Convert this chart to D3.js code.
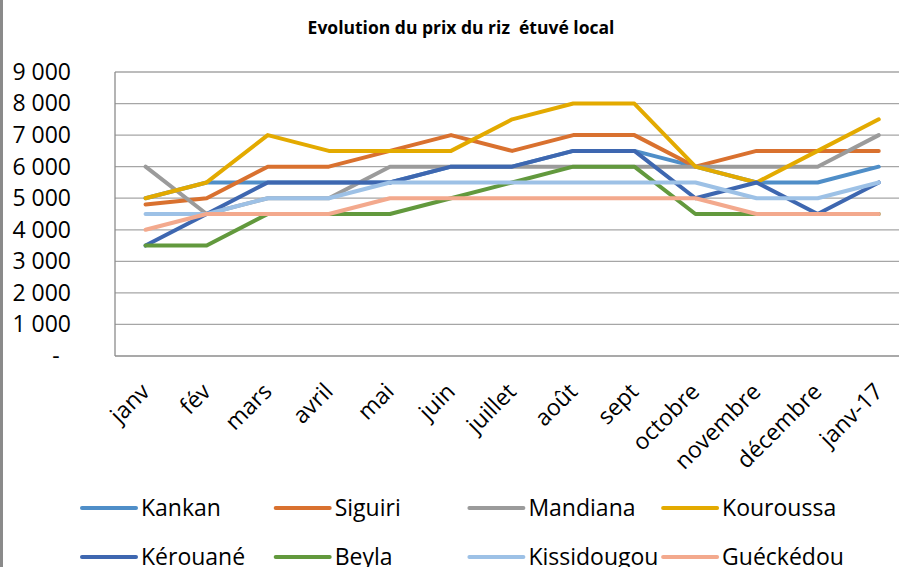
<!DOCTYPE html>
<html>
<head>
<meta charset="utf-8">
<script src="https://cdn.jsdelivr.net/npm/d3@7"></script>
<style>
  body { margin: 0; background: #fff; }
  svg { display: block; font-family: "Open Sans", "Noto Sans", sans-serif; }
</style>
</head>
<body>
<div id="chart"></div>
<script>
var months = ["janv", "fév", "mars", "avril", "mai", "juin", "juillet", "août",
  "sept", "octobre", "novembre", "décembre", "janv-17"];
var yTicks = [0, 1000, 2000, 3000, 4000, 5000, 6000, 7000, 8000, 9000];

var kankan      = [5000, 5500, 5500, 5500, 5500, 6000, 6000, 6500, 6500, 6000, 5500, 5500, 6000];
var siguiri     = [4800, 5000, 6000, 6000, 6500, 7000, 6500, 7000, 7000, 6000, 6500, 6500, 6500];
var mandiana    = [6000, 4500, 5000, 5000, 6000, 6000, 6000, 6000, 6000, 6000, 6000, 6000, 7000];
var kouroussa   = [5000, 5500, 7000, 6500, 6500, 6500, 7500, 8000, 8000, 6000, 5500, 6500, 7500];
var kerouane    = [3500, 4500, 5500, 5500, 5500, 6000, 6000, 6500, 6500, 5000, 5500, 4500, 5500];
var beyla       = [3500, 3500, 4500, 4500, 4500, 5000, 5500, 6000, 6000, 4500, 4500, 4500, 4500];
var kissidougou = [4500, 4500, 5000, 5000, 5500, 5500, 5500, 5500, 5500, 5500, 5000, 5000, 5500];
var gueckedou   = [4000, 4500, 4500, 4500, 5000, 5000, 5000, 5000, 5000, 5000, 4500, 4500, 4500];

var seriesNames = ["Kankan", "Siguiri", "Mandiana", "Kouroussa", "Kérouané", "Beyla", "Kissidougou", "Guéckédou"];
var seriesValues = [kankan, siguiri, mandiana, kouroussa, kerouane, beyla, kissidougou, gueckedou];
var colors = ["#4f8ec8", "#d9712f", "#9b9b9b", "#e3aa00", "#3e67b0", "#62993d", "#9dc1e6", "#f3a98d"];

var W = 899, H = 567;
var svg = d3.select("#chart").append("svg").attr("width", W).attr("height", H);

// left border of the frame
svg.append("rect").attr("x", 0).attr("y", 0).attr("width", 3).attr("height", H).attr("fill", "#8a8a8a");

svg.append("text")
  .attr("x", 461).attr("y", 34)
  .attr("text-anchor", "middle")
  .attr("font-weight", "bold")
  .attr("font-size", 17.5)
  .attr("xml:space", "preserve")
  .text("Evolution du prix du riz  étuvé local");

var plotLeft = 115, plotTop = 72, plotBottom = 356;
var x = d3.scalePoint().domain(months).range([plotLeft, plotLeft + 13 * 61.1]).padding(0.5);
var y = d3.scaleLinear().domain([0, 9000]).range([plotBottom, plotTop]);

// gridlines
svg.append("g")
  .selectAll("line")
  .data(yTicks)
  .enter()
  .append("line")
  .attr("x1", plotLeft).attr("x2", W)
  .attr("y1", function(d) { return y(d); })
  .attr("y2", function(d) { return y(d); })
  .attr("stroke", function(d) { return d == 0 ? "#8c8c8c" : "#a6a6a6"; })
  .attr("stroke-width", 1.3);

svg.append("line")
  .attr("x1", plotLeft).attr("x2", plotLeft).attr("y1", plotTop).attr("y2", plotBottom)
  .attr("stroke", "#8c8c8c").attr("stroke-width", 1.3);

var spaceFmt = function(d) {
  if (d == 0) return "-";
  return d3.format(",")(d).replace(",", " ");
};
var yAxis = svg.append("g")
  .attr("transform", "translate(71,0)")
  .call(d3.axisLeft(y).tickValues(yTicks).tickSize(0).tickPadding(0).tickFormat(spaceFmt));
yAxis.select(".domain").remove();
yAxis.selectAll("text")
  .attr("font-size", 23)
  .attr("font-family", "Open Sans")
  .attr("fill", "#000");
yAxis.selectAll(".tick").filter(function(d) { return d == 0; }).select("text")
  .attr("text-anchor", "middle").attr("x", -15);

var xAxis = svg.append("g")
  .attr("transform", "translate(0," + plotBottom + ")")
  .call(d3.axisBottom(x).tickSize(0).tickFormat(function(d) { return d; }));
xAxis.select(".domain").remove();
xAxis.selectAll("text")
  .attr("font-size", 23)
  .attr("font-family", "Open Sans")
  .attr("fill", "#000")
  .attr("text-anchor", "end")
  .attr("dy", null)
  .attr("y", 0)
  .attr("transform", "translate(5,37) rotate(-45)");

var line = d3.line()
  .x(function(d, i) { return x(months[i]); })
  .y(function(d) { return y(d); });

svg.append("g")
  .selectAll("path")
  .data(seriesValues)
  .enter()
  .append("path")
  .attr("d", line)
  .attr("fill", "none")
  .attr("stroke", function(d, i) { return colors[i]; })
  .attr("stroke-width", 4)
  .attr("stroke-linejoin", "round")
  .attr("stroke-linecap", "round");

// legend, 4 per row
var legend = svg.append("g")
  .selectAll("g")
  .data(seriesNames)
  .enter()
  .append("g")
  .attr("transform", function(d, i) {
    return "translate(" + (82 + (i % 4) * 193.7) + "," + (508 + Math.floor(i / 4) * 49) + ")";
  });
legend.append("line")
  .attr("x1", 0).attr("x2", 54)
  .attr("stroke", function(d, i) { return colors[i]; })
  .attr("stroke-width", 4)
  .attr("stroke-linecap", "round");
legend.append("text")
  .attr("x", 59)
  .attr("dy", "0.35em")
  .attr("font-size", 23)
  .text(function(d) { return d; });
</script>
</body>
</html>
